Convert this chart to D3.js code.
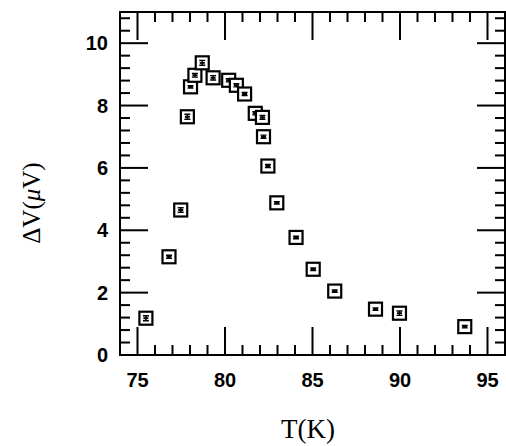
<!DOCTYPE html>
<html>
<head>
<meta charset="utf-8">
<script src="https://cdn.jsdelivr.net/npm/d3@7"></script>
</head>
<body style="margin:0">
<div id="vis"></div>
<script>
var temps = [75.48, 76.80, 77.47, 77.85, 78.03, 78.28, 78.70, 79.32, 80.21, 80.65, 81.12,
             81.73, 82.14, 82.20, 82.45, 82.96, 84.06, 85.04, 86.27, 88.60, 89.97, 93.70];
var dv    = [1.18, 3.15, 4.65, 7.64, 8.60, 8.97, 9.37, 8.89, 8.81, 8.65, 8.37,
             7.75, 7.62, 7.00, 6.06, 4.88, 3.77, 2.75, 2.05, 1.47, 1.34, 0.91];
var err   = [0.08, 0.05, 0.07, 0.08, 0.04, 0.06, 0.08, 0.07, 0.05, 0.05, 0.05,
             0.05, 0.06, 0.05, 0.05, 0.04, 0.04, 0.04, 0.04, 0.04, 0.07, 0.04];

var xTicks = [75, 80, 85, 90, 95];
var yTicks = [0, 2, 4, 6, 8, 10];

var svg = d3.select("#vis").append("svg").attr("width", 506).attr("height", 446);

var x = d3.scaleLinear().domain([74, 96]).range([120, 505]);
var y = d3.scaleLinear().domain([0, 11]).range([355, 12]);

// minor ticks: every 1 K on x, every 0.4 uV on y
var xMinor = d3.range(74, 97, 1).filter(v => v % 5 != 0);
var yMinor = d3.range(0, 28, 1).map(v => v * 0.4).filter(v => Math.abs(v / 2 - Math.round(v / 2)) > 1e-6);

// inward ticks on all four sides, drawn as thin filled bars
var xt = xTicks.map(v => ({ v: v, len: 28 })).concat(xMinor.map(v => ({ v: v, len: 10 })));
var ytk = yTicks.map(v => ({ v: v, len: 28 })).concat(yMinor.map(v => ({ v: v, len: 10 })));

var tk = svg.append("g").attr("fill", "#000");
tk.selectAll(".xb").data(xt).join("rect").attr("class", "xb")
  .attr("x", d => x(d.v) - 1).attr("y", d => 355 - d.len)
  .attr("width", 2).attr("height", d => d.len);
tk.selectAll(".xt").data(xt).join("rect").attr("class", "xt")
  .attr("x", d => x(d.v) - 1).attr("y", 12)
  .attr("width", 2).attr("height", d => d.len);
tk.selectAll(".yl").data(ytk).join("rect").attr("class", "yl")
  .attr("x", 120).attr("y", d => y(d.v) - 1)
  .attr("width", d => d.len).attr("height", 2);
tk.selectAll(".yr").data(ytk).join("rect").attr("class", "yr")
  .attr("x", d => 505 - d.len).attr("y", d => y(d.v) - 1)
  .attr("width", d => d.len).attr("height", 2);

// frame
svg.append("rect")
  .attr("x", 120).attr("y", 12)
  .attr("width", 385).attr("height", 343)
  .attr("fill", "none")
  .attr("stroke", "#000")
  .attr("stroke-width", 2);

// tick labels
svg.append("g").selectAll("text").data(xTicks).join("text")
  .attr("x", d => x(d))
  .attr("y", 387)
  .attr("text-anchor", "middle")
  .style("font", "bold 20px 'Liberation Sans', Arial, sans-serif")
  .text(d => d);

svg.append("g").selectAll("text").data(yTicks).join("text")
  .attr("x", 108)
  .attr("y", d => y(d) + 7)
  .attr("text-anchor", "end")
  .style("font", "bold 20px 'Liberation Sans', Arial, sans-serif")
  .text(d => d);

// axis titles
svg.append("text")
  .attr("x", 308)
  .attr("y", 438)
  .attr("text-anchor", "middle")
  .style("font", "27px 'Liberation Serif', 'Times New Roman', serif")
  .text("T(K)");

var yt = svg.append("text")
  .attr("transform", "translate(40,203) rotate(-90)")
  .attr("text-anchor", "middle")
  .style("font", "25px 'Liberation Serif', 'Times New Roman', serif");
yt.append("tspan").text("ΔV(");
yt.append("tspan").style("font-style", "italic").text("μ");
yt.append("tspan").text("V)");

// data markers: open squares with small error bars inside
var pts = temps.map((t, i) => ({ t: t, v: dv[i], e: err[i] }));
var mk = svg.append("g").selectAll("g").data(pts).join("g")
  .attr("transform", d => `translate(${x(d.t)},${y(d.v)})`);

mk.append("rect")
  .attr("x", -6.5).attr("y", -6.5)
  .attr("width", 13).attr("height", 13)
  .attr("fill", "#fff")
  .attr("stroke", "#000")
  .attr("stroke-width", 2.2);

mk.append("path")
  .attr("fill", "none")
  .attr("stroke", "#000")
  .attr("stroke-width", 1.4)
  .attr("d", d => {
    var h = Math.max(1.2, y(0) - y(d.e));
    return `M-3,${-h}H3M-3,${h}H3M0,${-h}V${h}`;
  });

mk.append("rect")
  .attr("x", -2.5).attr("y", -1)
  .attr("width", 5).attr("height", 2)
  .attr("fill", "#000");
</script>
</body>
</html>
